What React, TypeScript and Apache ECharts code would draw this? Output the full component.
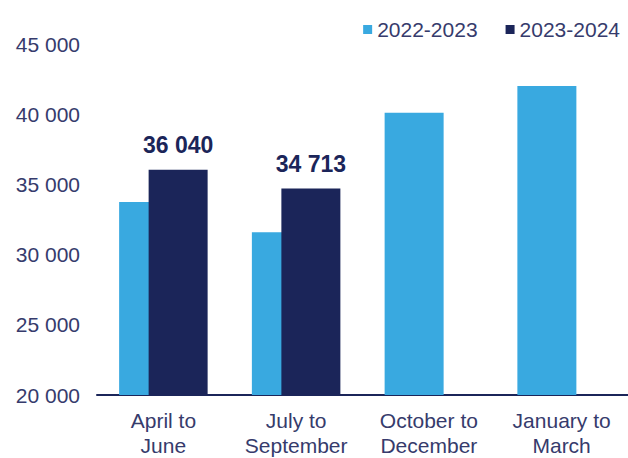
import React, { useEffect, useRef } from "react";
import * as echarts from "echarts";

const categories = ["April to\nJune", "July to\nSeptember", "October to\nDecember", "January to\nMarch"];
const seriesNames = ["2022-2023", "2023-2024"];
const values2022 = [33750, 31600, 40100, 42000];
const values2023: (number | null)[] = [36040, 34713, null, null];
const yMin = 20000;
const yMax = 45000;
const yInterval = 5000;

const fmt = (v: number) => String(Math.round(v)).replace(/\B(?=(\d{3})+(?!\d))/g, " ");

const LIGHT = "#39A9E0";
const NAVY = "#1B2559";
const TEXT = "#363B6C";
const FONT = "'Liberation Sans', Arial, sans-serif";

export default function App() {
  const ref = useRef<HTMLDivElement>(null);
  useEffect(() => {
    if (!ref.current) return;
    const chart = echarts.init(ref.current, null, { renderer: "svg" });
    chart.setOption({
      animation: false,
      textStyle: { fontFamily: FONT },
      legend: {
        right: 3,
        top: 14,
        itemWidth: 9,
        itemHeight: 9,
        itemGap: 28,
        icon: "rect",
        textStyle: { fontSize: 21, color: TEXT, fontFamily: FONT },
        data: seriesNames,
      },
      grid: { left: 97, top: 44, width: 536, height: 358, containLabel: false },
      xAxis: {
        type: "category",
        data: categories,
        axisLine: { show: true, lineStyle: { color: NAVY, width: 2 } },
        axisTick: { show: false },
        axisLabel: {
          fontSize: 21,
          color: TEXT,
          fontFamily: FONT,
          lineHeight: 25,
          margin: 13,
          interval: 0,
        },
      },
      yAxis: {
        type: "value",
        min: yMin,
        max: yMax,
        interval: yInterval,
        axisLine: { show: false },
        axisTick: { show: false },
        splitLine: { show: false },
        axisLabel: {
          fontSize: 21,
          color: TEXT,
          fontFamily: FONT,
          margin: 17,
          formatter: (v: number) => fmt(v),
        },
      },
      series: [
        {
          name: seriesNames[0],
          type: "bar",
          data: values2022,
          barWidth: 59,
          barGap: "-50%",
          itemStyle: { color: LIGHT },
        },
        {
          name: seriesNames[1],
          type: "bar",
          data: values2023,
          barWidth: 59,
          barGap: "-50%",
          itemStyle: { color: NAVY },
          label: {
            show: true,
            position: "top",
            distance: 13,
            fontSize: 23,
            fontWeight: "bold",
            color: NAVY,
            fontFamily: FONT,
            formatter: (p: any) => fmt(p.value),
          },
        },
      ],
    });
    return () => chart.dispose();
  }, []);
  return (
    <div
      ref={ref}
      style={{ position: "fixed", left: 0, top: 0, width: 628, height: 458, background: "#fff" }}
    />
  );
}
